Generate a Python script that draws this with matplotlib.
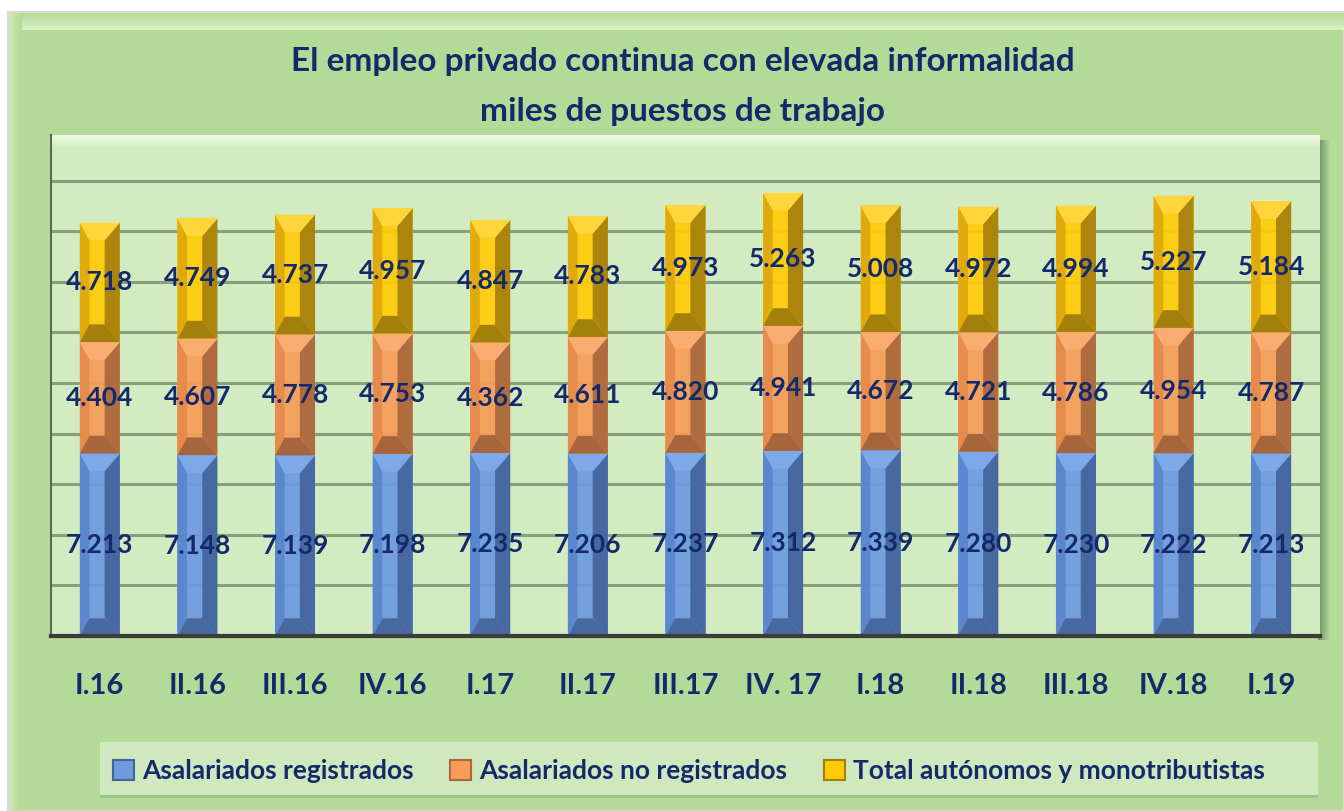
import numpy as np
import matplotlib.pyplot as plt
from matplotlib.colors import LinearSegmentedColormap
from matplotlib.patches import Rectangle, Polygon, Patch

# datos (miles de puestos de trabajo)
trimestres = ['I.16', 'II.16', 'III.16', 'IV.16', 'I.17', 'II.17', 'III.17',
              'IV. 17', 'I.18', 'II.18', 'III.18', 'IV.18', 'I.19']
registrados = [7213, 7148, 7139, 7198, 7235, 7206, 7237, 7312, 7339, 7280, 7230, 7222, 7213]
no_registrados = [4404, 4607, 4778, 4753, 4362, 4611, 4820, 4941, 4672, 4721, 4786, 4954, 4787]
autonomos = [4718, 4749, 4737, 4957, 4847, 4783, 4973, 5263, 5008, 4972, 4994, 5227, 5184]
series_nombres = ['Asalariados registrados', 'Asalariados no registrados',
                  'Total autónomos y monotributistas']

navy = '#13296b'
fuente = 'Lato'

# colores de cada serie: frente, bisel izq, bisel der, bisel sup, bisel inf
estilos = [
    dict(front='#6c9be0', left='#5885cc', right='#44649c', top='#7eaaea', bottom='#46639a'),
    dict(front='#f89c58', left='#e58a4a', right='#a9693d', top='#fbae72', bottom='#a0603a'),
    dict(front='#ffcb05', left='#dfa70c', right='#a47f0c', top='#ffd740', bottom='#9c7a0c'),
]


def cmap(c1, c2):
    return LinearSegmentedColormap.from_list('g', [c1, c2])


W, H = 1344, 811
fig = plt.figure(figsize=(W / 100, H / 100), dpi=100)
fig.patch.set_facecolor('white')

# fondo del grafico
bg = fig.add_axes([0, 0, 1, 1], zorder=-5)
bg.axis('off')
bg.add_patch(Rectangle((8, 12), W - 8, H - 12, facecolor='#b3da96', edgecolor='#d8d8d8', lw=1.5))
grad = np.linspace(0, 1, 50).reshape(-1, 1)
bg.imshow(grad, extent=[9, W, 30, 13], cmap=cmap('#b3da96', '#d9f0c6'), aspect='auto', zorder=1)
bg.imshow(grad.T, extent=[9, 22, H, 13], cmap=cmap('#cdeab8', '#b3da96'), aspect='auto', zorder=1)
# caja de la leyenda
bg.add_patch(Rectangle((100, 742), 1218, 55, facecolor='#cfe8bd', edgecolor='none', zorder=2))
bg.add_patch(Rectangle((100, 795), 1218, 3, facecolor='#9fc488', edgecolor='none', zorder=2))
# sombra derecha del area de trazado
bg.imshow(grad.T, extent=[1318, 1330, 640, 140], cmap=cmap('#6f8a63', '#b3da96'), aspect='auto', zorder=2)
bg.set_xlim(0, W)
bg.set_ylim(H, 0)

# area de trazado
x0_px, x1_px, top_px, base_px = 51, 1320, 135, 636
ax = fig.add_axes([x0_px / W, (H - base_px) / H, (x1_px - x0_px) / W, (base_px - top_px) / H])
ax.set_facecolor('#d2ebc1')

x = np.arange(len(trimestres))
ymax = 19800
ax.set_xlim(-0.5, len(trimestres) - 0.5)
ax.set_ylim(0, ymax)

# banda clara superior
ax.imshow(grad, extent=[-0.5, len(trimestres) - 0.5, ymax - 520, ymax],
          cmap=cmap('#f2fbec', '#d2ebc1'), aspect='auto', zorder=0)

for yv in range(2000, 18001, 2000):
    ax.axhline(yv, color='#86a07c', lw=2.2, zorder=0.5)

ancho = 0.41
bisel = 700
fondo = np.zeros(len(trimestres))
for vals, est, nombre in zip([registrados, no_registrados, autonomos], estilos, series_nombres):
    barras = ax.bar(x, vals, ancho, bottom=fondo, color=est['front'], zorder=2, alpha=0.92)
    for b in barras:
        bx0, bx1 = b.get_x(), b.get_x() + b.get_width()
        by0, by1 = b.get_y(), b.get_y() + b.get_height()
        w = bx1 - bx0
        xi0, xi1 = bx0 + 0.24 * w, bx0 + 0.62 * w
        yi0, yi1 = by0 + bisel, by1 - bisel
        caras = [
            ([(bx0, by0), (xi0, yi0), (xi0, yi1), (bx0, by1)], est['left']),
            ([(bx1, by0), (bx1, by1), (xi1, yi1), (xi1, yi0)], est['right']),
            ([(bx0, by1), (bx1, by1), (xi1, yi1), (xi0, yi1)], est['top']),
            ([(bx0, by0), (bx1, by0), (xi1, yi0), (xi0, yi0)], est['bottom']),
        ]
        for pts, c in caras:
            ax.add_patch(Polygon(pts, closed=True, facecolor=c, edgecolor='none', zorder=2.5, alpha=0.92))
    for xi, v, f in zip(x, vals, fondo):
        ax.text(xi, f + v / 2, f'{v / 1000:.3f}', ha='center', va='center', fontsize=19,
                color=navy, family=fuente, fontweight='bold', zorder=4)
    fondo = fondo + np.array(vals)

for s in ['top', 'right']:
    ax.spines[s].set_visible(False)
ax.spines['bottom'].set_color('#3c3c3c')
ax.spines['bottom'].set_linewidth(3)
ax.spines['left'].set_color('#5a6a55')
ax.spines['left'].set_linewidth(1.5)
ax.set_yticks([])
ax.set_xticks(x)
ax.set_xticklabels(trimestres, fontsize=21, fontweight='bold', color=navy, family=fuente)
ax.tick_params(axis='x', length=0, pad=27)

fig.text(0.508, (H - 62) / H, 'El empleo privado continua con elevada informalidad',
         ha='center', va='center', fontsize=24, fontweight='bold', color=navy, family=fuente)
fig.text(0.508, (H - 112) / H, 'miles de puestos de trabajo',
         ha='center', va='center', fontsize=24, fontweight='bold', color=navy, family=fuente)

handles = [Patch(facecolor=e['front'], edgecolor=e['right'], lw=1.5) for e in estilos]
leg = fig.legend(handles, series_nombres, loc='center', bbox_to_anchor=(689 / W, (H - 771) / H),
                 ncol=3, frameon=False, prop={'family': fuente, 'size': 19, 'weight': 'bold'},
                 handlelength=0.8, handleheight=0.8, handletextpad=0.3, columnspacing=1.4)
for t in leg.get_texts():
    t.set_color(navy)

fig.savefig('out.png', dpi=100, facecolor=fig.get_facecolor())
